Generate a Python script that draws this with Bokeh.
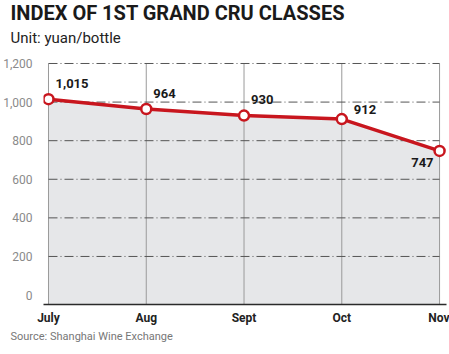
from bokeh.plotting import figure
from bokeh.models import FixedTicker, Title, ColumnDataSource, Range1d
from bokeh.core.properties import value
from bokeh.embed import file_html
from bokeh.resources import INLINE

months = ["July", "Aug", "Sept", "Oct", "Nov"]
prices = [1015, 964, 930, 912, 747]
price_labels = ["1,015", "964", "930", "912", "747"]
y_ticks = [0, 200, 400, 600, 800, 1000, 1200]
y_tick_labels = ["0", "200", "400", "600", "800", "1,000", "1,200"]

x = list(range(len(months)))

RED = "#c8161e"
FONT = "Roboto"

p = figure(width=449, height=354, output_backend="svg", toolbar_location=None,
           x_range=Range1d(-0.051, 4.071), y_range=Range1d(-49, 1257),
           min_border_left=42, min_border_right=3, min_border_top=52, min_border_bottom=50)
p.outline_line_color = None
p.background_fill_color = "white"
p.xgrid.visible = False
p.ygrid.visible = False

# axes
p.xaxis.ticker = FixedTicker(ticks=x)
p.xaxis.major_label_overrides = {i: m for i, m in zip(x, months)}
p.xaxis.major_tick_line_color = None
p.xaxis.minor_tick_line_color = None
p.xaxis.axis_line_color = "#2a2a2a"
p.xaxis.axis_line_width = 1.5
p.xaxis.major_label_text_font = FONT
p.xaxis.major_label_text_font_style = "bold"
p.xaxis.major_label_text_font_size = "12px"
p.xaxis.major_label_text_color = "#222222"
p.xaxis.major_label_standoff = 0

p.yaxis.ticker = FixedTicker(ticks=y_ticks)
p.yaxis.major_label_overrides = {t: l for t, l in zip(y_ticks, y_tick_labels)}
p.yaxis.major_tick_line_color = None
p.yaxis.minor_tick_line_color = None
p.yaxis.axis_line_color = None
p.yaxis.major_label_text_font = FONT
p.yaxis.major_label_text_font_size = "12px"
p.yaxis.major_label_text_color = "#8a8a8a"
p.yaxis.major_label_standoff = 5

# fill under the line
src = ColumnDataSource(dict(x=x, y=prices, lab=price_labels,
                            dx=[7, 7, 7, 12, -6], dy=[-16, -16, -16, -10, 12],
                            align=["left", "left", "left", "left", "right"]))
p.varea(x="x", y1=p.y_range.start, y2="y", source=src, fill_color="#e6e7e9")

# grid lines
grid_vals = [t for t in y_ticks if t > 0]
p.segment(x0=x, x1=x, y0=[p.y_range.start] * len(x), y1=[max(y_ticks)] * len(x),
          line_color="#9a9a9a", line_width=1)
p.segment(x0=[x[0]] * len(grid_vals), x1=[x[-1]] * len(grid_vals),
          y0=grid_vals, y1=grid_vals, line_color="#555555", line_width=1,
          line_dash="9 3 1 3")

# line and markers
p.line(x="x", y="y", source=src, line_color=RED, line_width=3.5)
p.scatter(x="x", y="y", source=src, size=10, fill_color="white",
          line_color=RED, line_width=2.5)

p.text(x="x", y="y", text="lab", source=src, x_offset="dx", y_offset="dy",
       text_align="align", text_baseline="middle", text_font=value(FONT),
       text_font_style="bold", text_font_size="13px", text_color="#1a1a1a")

# titles
sub = Title(text="Unit: yuan/bottle", align="left", offset=-33,
            text_font=FONT, text_font_size="15px", text_font_style="normal",
            text_color="#222222", standoff=11)
p.add_layout(sub, "above")
main = Title(text="INDEX OF 1ST GRAND CRU CLASSES", align="left", offset=-33,
             text_font=FONT, text_font_size="20px", text_font_style="bold",
             text_color="#1a1a1a", standoff=-6)
p.add_layout(main, "above")
src_title = Title(text="Source: Shanghai Wine Exchange", align="left", offset=-33,
                  text_font=FONT, text_font_size="11px", text_font_style="normal",
                  text_color="#777777", standoff=0)
p.add_layout(src_title, "below")

open("out.html", "w").write(file_html(p, INLINE))
